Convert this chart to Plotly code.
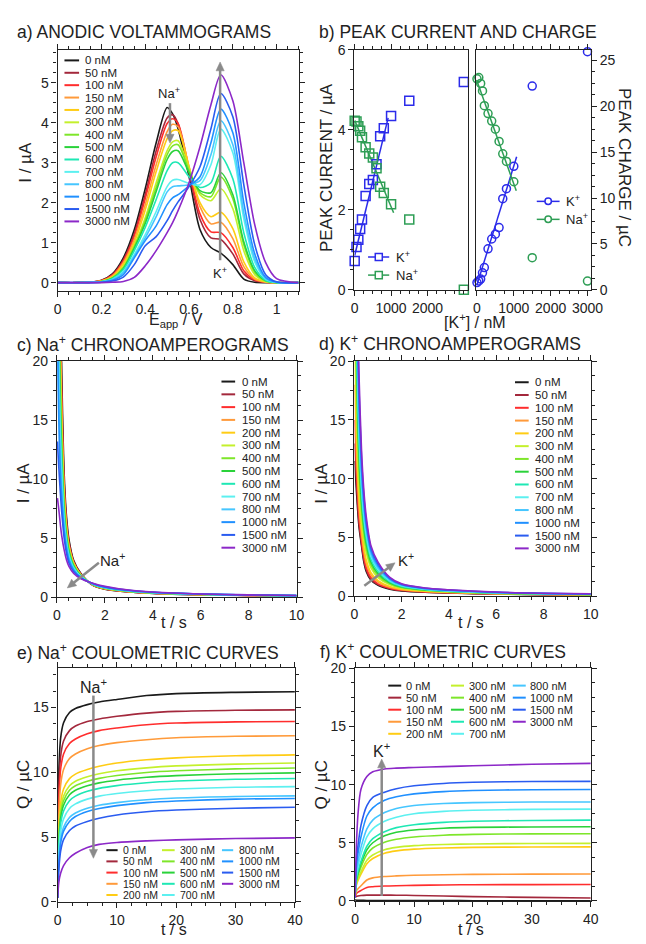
import math
import plotly.graph_objects as go

W, H = 646, 944
FONT = "Liberation Sans, Arial, Helvetica, sans-serif"
INK = "#222222"
ARROW = "#8a8a8a"

# ---------------------------------------------------------------- data
conc_labels = ["0 nM", "50 nM", "100 nM", "150 nM", "200 nM", "300 nM", "400 nM",
               "500 nM", "600 nM", "700 nM", "800 nM", "1000 nM", "1500 nM", "3000 nM"]
conc_colors = ["#1a1a1a", "#a3283c", "#ff2d2d", "#ff9a3a", "#ffcc14", "#c4f02c", "#7ee62a",
               "#2ad23a", "#1ee8b4", "#5cf0f0", "#46c6ff", "#2090ff", "#2a5cf0", "#8c28c8"]

# a) anodic voltammograms: potential (V) and current (uA)
volt_E = [0, 0.1, 0.15, 0.2, 0.25, 0.3, 0.35, 0.4, 0.45, 0.5, 0.525, 0.55,
          0.6, 0.65, 0.7, 0.745, 0.8, 0.85, 0.9, 0.95, 1.0, 1.1]
volt_I = [
    [0, 0, 0.01, 0.06, 0.22, 0.62, 1.32, 2.35, 3.5, 4.38, 4.22, 3.85, 2.65, 1.33, 0.88, 0.74, 0.45, 0.09, 0.01, 0, 0, 0],
    [0, 0, 0.01, 0.05, 0.2, 0.57, 1.22, 2.2, 3.3, 4.12, 4.2, 3.98, 2.78, 1.58, 1.12, 1.08, 0.72, 0.22, 0.05, 0.01, 0, 0],
    [0, 0, 0.01, 0.05, 0.19, 0.54, 1.16, 2.1, 3.15, 3.98, 4.1, 3.98, 2.85, 1.72, 1.27, 1.25, 0.88, 0.3, 0.07, 0.01, 0, 0],
    [0, 0, 0.01, 0.04, 0.17, 0.5, 1.08, 1.95, 2.95, 3.78, 3.96, 3.9, 2.9, 1.9, 1.47, 1.51, 1.1, 0.4, 0.09, 0.01, 0, 0],
    [0, 0, 0.01, 0.04, 0.15, 0.46, 1.0, 1.82, 2.78, 3.6, 3.8, 3.8, 2.9, 2.0, 1.65, 1.76, 1.35, 0.52, 0.12, 0.02, 0, 0],
    [0, 0, 0.01, 0.03, 0.13, 0.4, 0.92, 1.62, 2.5, 3.3, 3.52, 3.55, 2.85, 2.2, 2.05, 2.35, 1.85, 0.8, 0.2, 0.03, 0, 0],
    [0, 0, 0.01, 0.03, 0.12, 0.38, 0.9, 1.55, 2.38, 3.2, 3.42, 3.45, 2.8, 2.25, 2.15, 2.64, 2.1, 0.95, 0.26, 0.04, 0, 0],
    [0, 0, 0.01, 0.03, 0.11, 0.35, 0.86, 1.48, 2.28, 3.08, 3.28, 3.3, 2.75, 2.3, 2.25, 2.75, 2.2, 1.02, 0.3, 0.05, 0, 0],
    [0, 0, 0.01, 0.02, 0.1, 0.32, 0.8, 1.38, 2.08, 2.8, 3.0, 3.0, 2.65, 2.38, 2.5, 3.16, 2.6, 1.25, 0.38, 0.06, 0, 0],
    [0, 0, 0.01, 0.02, 0.08, 0.27, 0.7, 1.2, 1.78, 2.4, 2.56, 2.58, 2.48, 2.45, 2.95, 3.84, 3.25, 1.6, 0.52, 0.09, 0.01, 0],
    [0, 0, 0.01, 0.02, 0.07, 0.25, 0.66, 1.12, 1.65, 2.27, 2.4, 2.42, 2.45, 2.55, 3.2, 4.05, 3.45, 1.75, 0.6, 0.1, 0.01, 0],
    [0, 0, 0, 0.01, 0.06, 0.2, 0.62, 1.05, 1.42, 1.95, 2.12, 2.2, 2.42, 2.65, 3.5, 4.34, 3.75, 2.0, 0.72, 0.13, 0.01, 0],
    [0, 0, 0, 0.01, 0.04, 0.14, 0.45, 0.92, 1.15, 1.55, 1.8, 2.02, 2.4, 2.9, 3.85, 4.73, 4.15, 2.45, 0.95, 0.2, 0.02, 0],
    [0, 0, 0, 0, 0.01, 0.03, 0.13, 0.42, 0.8, 1.25, 1.5, 1.8, 2.5, 3.4, 4.45, 5.2, 4.55, 3.0, 1.45, 0.5, 0.1, 0],
]

# b) peak current (uA) and peak charge (uC) versus [K+] (nM)
peak_conc = [0, 50, 100, 150, 200, 300, 400, 500, 600, 700, 800, 1000, 1500, 3000]
peak_current_K = [0.72, 1.07, 1.25, 1.52, 1.76, 2.35, 2.65, 2.75, 3.14, 3.84, 4.04, 4.35, 4.73, 5.2]
peak_current_Na = [4.23, 4.21, 4.09, 3.98, 3.82, 3.57, 3.41, 3.31, 3.04, 2.58, 2.42, 2.14, 1.76, 0.0]
peak_charge_K = [0.79, 0.97, 1.18, 1.86, 2.43, 4.47, 5.54, 6.07, 6.79, 9.93, 11.03, 13.46, 22.21, 25.96]
peak_charge_Na = [23.0, 23.14, 22.5, 21.68, 20.07, 19.21, 18.39, 17.5, 16.17, 14.82, 14.0, 11.78, 3.5, 0.96]
# linear fits over the low-concentration range
fit_current_K_x, fit_current_K_y = [0, 920], [0.86, 4.3]
fit_current_Na_x, fit_current_Na_y = [0, 1070], [4.24, 1.93]
fit_charge_K_x, fit_charge_K_y = [0, 1077], [0.54, 14.5]
fit_charge_Na_x, fit_charge_Na_y = [0, 1067], [22.75, 10.8]

# c), d) chronoamperograms: time (s) and current (uA)
chrono_t = [0.02, 0.05, 0.1, 0.15, 0.2, 0.3, 0.4, 0.5, 0.7, 1.0, 1.5, 2, 3, 4, 6, 8, 10]
chrono_Na_I = [
    [95, 60, 38, 26, 19, 10.5, 6.8, 4.9, 3.1, 2.0, 1.0, 0.68, 0.44, 0.32, 0.2, 0.14, 0.1],
    [90, 56, 35, 24, 17.5, 9.8, 6.4, 4.7, 3.0, 1.95, 1.02, 0.7, 0.45, 0.33, 0.21, 0.15, 0.11],
    [85, 52, 32, 22.5, 16.5, 9.4, 6.2, 4.5, 2.95, 1.92, 1.03, 0.71, 0.46, 0.33, 0.21, 0.15, 0.11],
    [80, 48, 30, 21, 15.5, 9.0, 6.0, 4.4, 2.9, 1.9, 1.04, 0.72, 0.47, 0.34, 0.22, 0.15, 0.11],
    [75, 45, 28, 20, 14.8, 8.6, 5.8, 4.3, 2.85, 1.88, 1.05, 0.73, 0.48, 0.35, 0.22, 0.16, 0.12],
    [65, 40, 25, 18, 13.5, 8.0, 5.5, 4.1, 2.75, 1.84, 1.06, 0.75, 0.49, 0.36, 0.23, 0.16, 0.12],
    [60, 37, 23, 16.8, 12.8, 7.7, 5.3, 4.0, 2.7, 1.82, 1.07, 0.76, 0.5, 0.36, 0.23, 0.16, 0.12],
    [55, 34, 21.5, 15.8, 12.2, 7.4, 5.15, 3.9, 2.65, 1.8, 1.08, 0.77, 0.5, 0.37, 0.24, 0.17, 0.12],
    [45, 29, 19, 14.2, 11.2, 6.9, 4.9, 3.7, 2.55, 1.76, 1.1, 0.79, 0.52, 0.38, 0.24, 0.17, 0.13],
    [38, 25, 17, 12.8, 10.3, 6.5, 4.6, 3.5, 2.45, 1.73, 1.11, 0.8, 0.53, 0.39, 0.25, 0.18, 0.13],
    [32, 22, 15, 11.6, 9.4, 6.1, 4.4, 3.35, 2.38, 1.7, 1.12, 0.82, 0.54, 0.4, 0.25, 0.18, 0.13],
    [24, 18, 13, 10.2, 8.4, 5.6, 4.1, 3.15, 2.28, 1.66, 1.14, 0.84, 0.56, 0.41, 0.26, 0.18, 0.13],
    [13.2, 12, 10.2, 8.6, 7.2, 5.0, 3.7, 2.9, 2.15, 1.62, 1.16, 0.87, 0.58, 0.42, 0.27, 0.19, 0.14],
    [8.4, 7.9, 7.0, 6.0, 5.2, 4.0, 3.15, 2.6, 2.0, 1.55, 1.18, 0.92, 0.6, 0.44, 0.27, 0.19, 0.14],
]
chrono_K_I = [
    [11.5, 10.2, 8.5, 7.0, 5.8, 4.3, 2.9, 2.1, 1.35, 0.92, 0.6, 0.45, 0.33, 0.27, 0.18, 0.13, 0.1],
    [13, 11.5, 9.2, 7.5, 6.1, 4.5, 3.1, 2.25, 1.45, 0.98, 0.64, 0.48, 0.35, 0.28, 0.19, 0.14, 0.1],
    [15, 13, 10.2, 8.2, 6.6, 4.8, 3.35, 2.45, 1.58, 1.05, 0.68, 0.5, 0.36, 0.29, 0.2, 0.14, 0.11],
    [18, 15, 11.6, 9.2, 7.4, 5.3, 3.8, 2.8, 1.8, 1.2, 0.76, 0.55, 0.4, 0.31, 0.21, 0.15, 0.11],
    [22, 17.5, 13, 10.2, 8.2, 5.8, 4.2, 3.1, 2.0, 1.32, 0.82, 0.6, 0.42, 0.33, 0.22, 0.16, 0.12],
    [28, 21, 15.5, 12, 9.5, 6.7, 4.9, 3.7, 2.4, 1.58, 0.96, 0.68, 0.47, 0.37, 0.24, 0.17, 0.13],
    [32, 24, 17.5, 13.3, 10.6, 7.4, 5.4, 4.1, 2.65, 1.75, 1.05, 0.73, 0.5, 0.39, 0.25, 0.18, 0.14],
    [36, 27, 19.5, 14.8, 11.7, 8.1, 5.9, 4.5, 2.9, 1.92, 1.13, 0.78, 0.53, 0.41, 0.26, 0.19, 0.14],
    [40, 30, 21.5, 16.2, 12.8, 8.8, 6.4, 4.9, 3.15, 2.1, 1.22, 0.83, 0.56, 0.43, 0.28, 0.2, 0.15],
    [44, 33, 23.5, 17.6, 13.9, 9.5, 6.9, 5.3, 3.4, 2.26, 1.3, 0.88, 0.59, 0.45, 0.29, 0.21, 0.16],
    [47, 35, 25, 18.8, 14.8, 10.1, 7.3, 5.6, 3.6, 2.4, 1.37, 0.92, 0.61, 0.47, 0.3, 0.22, 0.16],
    [51, 38, 27, 20.3, 16.0, 10.9, 7.9, 6.0, 3.85, 2.58, 1.46, 0.97, 0.64, 0.5, 0.32, 0.23, 0.17],
    [56, 42, 28.5, 21.7, 17.3, 11.8, 8.5, 6.4, 4.1, 2.75, 1.54, 1.01, 0.67, 0.52, 0.33, 0.24, 0.18],
    [60, 45, 30, 23, 18.5, 12.5, 9.0, 6.8, 4.3, 2.9, 1.6, 1.05, 0.7, 0.55, 0.35, 0.25, 0.2],
]

# e), f) coulometric curves: time (s) and charge (uC)
coul_t = [0, 0.2, 0.5, 1, 2, 3, 5, 7, 10, 15, 20, 30, 40]
coul_Na_Q = [
    [0.3, 10.0, 12.6, 13.8, 14.6, 14.9, 15.2, 15.4, 15.6, 15.9, 16.05, 16.15, 16.2],
    [0.3, 8.6, 11.2, 12.4, 13.2, 13.55, 13.9, 14.1, 14.3, 14.55, 14.68, 14.77, 14.8],
    [0.3, 7.6, 10.2, 11.4, 12.2, 12.55, 12.95, 13.2, 13.4, 13.65, 13.78, 13.87, 13.9],
    [0.3, 6.6, 9.0, 10.2, 11.05, 11.4, 11.8, 12.05, 12.27, 12.5, 12.65, 12.76, 12.8],
    [0.3, 5.4, 7.6, 8.7, 9.5, 9.85, 10.2, 10.45, 10.7, 10.95, 11.1, 11.26, 11.33],
    [0.3, 5.0, 7.1, 8.15, 8.95, 9.3, 9.65, 9.88, 10.1, 10.33, 10.48, 10.62, 10.7],
    [0.3, 4.7, 6.75, 7.8, 8.6, 8.95, 9.3, 9.52, 9.74, 9.97, 10.1, 10.25, 10.32],
    [0.3, 4.4, 6.4, 7.45, 8.25, 8.6, 8.95, 9.17, 9.38, 9.6, 9.73, 9.87, 9.94],
    [0.3, 4.0, 6.0, 7.0, 7.8, 8.15, 8.52, 8.75, 8.96, 9.18, 9.31, 9.45, 9.51],
    [0.3, 3.6, 5.4, 6.4, 7.2, 7.55, 7.92, 8.15, 8.35, 8.57, 8.7, 8.83, 8.88],
    [0.3, 3.2, 4.8, 5.75, 6.5, 6.85, 7.22, 7.45, 7.65, 7.87, 8.0, 8.12, 8.17],
    [0.3, 2.9, 4.5, 5.45, 6.2, 6.58, 6.97, 7.2, 7.42, 7.65, 7.78, 7.92, 7.97],
    [0.3, 2.5, 3.9, 4.8, 5.5, 5.85, 6.2, 6.45, 6.7, 6.95, 7.08, 7.22, 7.29],
    [0.3, 1.5, 2.2, 2.8, 3.4, 3.75, 4.2, 4.43, 4.58, 4.7, 4.78, 4.88, 4.93],
]
coul_K_Q = [
    [0.1, 0.06, 0.05, 0.05, 0.04, 0.04, 0.04, 0.03, 0.03, 0.03, 0.02, 0.02, 0.02],
    [0.3, 0.38, 0.43, 0.47, 0.5, 0.5, 0.5, 0.49, 0.47, 0.42, 0.37, 0.3, 0.25],
    [0.3, 0.6, 0.75, 0.9, 1.15, 1.22, 1.28, 1.31, 1.34, 1.37, 1.39, 1.4, 1.41],
    [0.3, 0.85, 1.05, 1.3, 1.8, 1.98, 2.1, 2.15, 2.2, 2.25, 2.28, 2.3, 2.31],
    [0.3, 1.3, 1.75, 2.3, 3.2, 3.65, 4.1, 4.3, 4.45, 4.55, 4.6, 4.64, 4.65],
    [0.3, 1.4, 1.9, 2.5, 3.5, 3.95, 4.4, 4.6, 4.75, 4.85, 4.9, 4.94, 4.95],
    [0.3, 1.6, 2.2, 2.9, 4.0, 4.55, 5.05, 5.3, 5.5, 5.65, 5.72, 5.76, 5.77],
    [0.3, 1.75, 2.4, 3.2, 4.4, 5.0, 5.6, 5.9, 6.1, 6.25, 6.32, 6.36, 6.38],
    [0.3, 1.85, 2.55, 3.4, 4.7, 5.35, 5.95, 6.3, 6.55, 6.75, 6.85, 6.92, 6.95],
    [0.3, 2.1, 2.95, 4.0, 5.5, 6.2, 6.85, 7.2, 7.5, 7.7, 7.8, 7.87, 7.89],
    [0.3, 2.4, 3.4, 4.6, 6.2, 6.95, 7.6, 7.95, 8.2, 8.38, 8.45, 8.5, 8.5],
    [0.3, 2.9, 4.1, 5.5, 7.3, 8.0, 8.65, 8.95, 9.2, 9.4, 9.5, 9.56, 9.58],
    [0.3, 3.3, 4.8, 6.5, 8.2, 8.9, 9.35, 9.65, 9.9, 10.1, 10.2, 10.27, 10.28],
    [0.3, 4.5, 7.5, 9.6, 10.7, 11.1, 11.35, 11.42, 11.47, 11.55, 11.62, 11.75, 11.83],
]

K_COLOR = "#2b2bea"
NA_COLOR = "#2e9e55"

# ---------------------------------------------------------------- panel frames (pixels) and ranges
PANELS = {
    "a": dict(px=(55, 302), py=(287.5, 42.7), xr=(0, 1.1), yr=(-0.2, 5.82)),
    "bl": dict(px=(359.3, 475.7), py=(286.7, 42.7), xr=(-8, 3112), yr=(0, 6)),
    "br": dict(px=(484, 601.7), py=(286.7, 42.7), xr=(-26, 3090), yr=(0, 26.14)),
    "c": dict(px=(54.3, 300), py=(599.3, 359.3), xr=(0, 10), yr=(0, 20)),
    "d": dict(px=(359.3, 601.7), py=(598.3, 359.3), xr=(0, 10), yr=(0, 20)),
    "e": dict(px=(55, 298.3), py=(909.3, 671.7), xr=(0, 40), yr=(0, 18)),
    "f": dict(px=(360, 601.7), py=(908.3, 671.7), xr=(0, 40), yr=(0, 20)),
}


def px(x):
    return x / W


def py(y):
    return 1 - y / H


def to_pixels(panel, x, y):
    p = PANELS[panel]
    (x0, x1), (y0, y1) = p["px"], p["py"]
    (a0, a1), (b0, b1) = p["xr"], p["yr"]
    return x0 + (x - a0) / (a1 - a0) * (x1 - x0), y0 + (y - b0) / (b1 - b0) * (y1 - y0)


def axis(panel, dtick, minor, anchor, **kw):
    p = PANELS[panel]
    d = dict(domain=[px(p["px"][0]), px(p["px"][1])], range=list(p["xr"]),
             tickmode="linear", tick0=0, dtick=dtick, anchor=anchor,
             showline=True, linecolor=INK, linewidth=1.3, mirror="ticks",
             ticks="outside", ticklen=5, tickwidth=1.2, tickcolor=INK,
             minor=dict(tick0=0, dtick=minor, ticks="outside", ticklen=3, tickwidth=1, tickcolor=INK),
             showgrid=False, zeroline=False, fixedrange=True,
             tickfont=dict(family=FONT, size=14, color=INK))
    d.update(kw)
    return d


def yaxis(panel, dtick, minor, anchor, **kw):
    p = PANELS[panel]
    d = axis(panel, dtick, minor, anchor, **kw)
    d["domain"] = [py(p["py"][0]), py(p["py"][1])]
    d["range"] = list(p["yr"])
    return d


fig = go.Figure()


def curves(xs, ys_list, xa, ya, width=1.6):
    for ys, col in zip(ys_list, conc_colors):
        fig.add_trace(go.Scatter(x=xs, y=ys, mode="lines", xaxis=xa, yaxis=ya,
                                 line=dict(color=col, width=width, shape="spline", smoothing=0.8),
                                 hoverinfo="skip", showlegend=False))


curves(volt_E, volt_I, "x", "y")
curves(chrono_t, chrono_Na_I, "x4", "y4")
curves(chrono_t, chrono_K_I, "x5", "y5")
curves(coul_t, coul_Na_Q, "x6", "y6")
curves(coul_t, coul_K_Q, "x7", "y7")

# b) fits and markers
for fx, fy, col, xa, ya in [(fit_current_K_x, fit_current_K_y, K_COLOR, "x2", "y2"),
                            (fit_current_Na_x, fit_current_Na_y, NA_COLOR, "x2", "y2"),
                            (fit_charge_K_x, fit_charge_K_y, K_COLOR, "x3", "y3"),
                            (fit_charge_Na_x, fit_charge_Na_y, NA_COLOR, "x3", "y3")]:
    fig.add_trace(go.Scatter(x=fx, y=fy, mode="lines", xaxis=xa, yaxis=ya,
                             line=dict(color=col, width=1.5), hoverinfo="skip", showlegend=False))

for ys, col, sym, size, xa, ya in [(peak_current_K, K_COLOR, "square-open", 9, "x2", "y2"),
                                   (peak_current_Na, NA_COLOR, "square-open", 9, "x2", "y2"),
                                   (peak_charge_K, K_COLOR, "circle-open", 8, "x3", "y3"),
                                   (peak_charge_Na, NA_COLOR, "circle-open", 8, "x3", "y3")]:
    fig.add_trace(go.Scatter(x=peak_conc, y=ys, mode="markers", xaxis=xa, yaxis=ya, cliponaxis=False,
                             marker=dict(symbol=sym, size=size, color=col, line=dict(width=1.5, color=col)),
                             hoverinfo="skip", showlegend=False))

# ---------------------------------------------------------------- axes
fig.update_layout(
    width=W, height=H, margin=dict(l=0, r=0, t=0, b=0), autosize=False,
    paper_bgcolor="white", plot_bgcolor="white", showlegend=False,
    font=dict(family=FONT, color=INK),
    xaxis=axis("a", 0.2, 0.05, "y"),
    yaxis=yaxis("a", 1, 0.25, "x"),
    xaxis2=axis("bl", 1000, 250, "y2", tickmode="array", tickvals=[0, 1000, 2000],
                ticktext=["0", "1000", "2000"]),
    yaxis2=yaxis("bl", 2, 0.5, "x2", mirror=True),
    xaxis3=axis("br", 1000, 250, "y3"),
    yaxis3=yaxis("br", 5, 1.25, "x3", side="right", mirror=True),
    xaxis4=axis("c", 2, 0.5, "y4"),
    yaxis4=yaxis("c", 5, 1.25, "x4"),
    xaxis5=axis("d", 2, 0.5, "y5"),
    yaxis5=yaxis("d", 5, 1.25, "x5"),
    xaxis6=axis("e", 10, 2.5, "y6"),
    yaxis6=yaxis("e", 5, 1.25, "x6"),
    xaxis7=axis("f", 10, 2.5, "y7"),
    yaxis7=yaxis("f", 5, 1.25, "x7"),
)

annotations = []
shapes = []


def text(x, y, s, size, xanchor="left", angle=0):
    annotations.append(dict(x=px(x), y=py(y), xref="paper", yref="paper", text=s, showarrow=False,
                            xanchor=xanchor, yanchor="middle", textangle=angle,
                            font=dict(family=FONT, size=size, color=INK)))


# panel titles
text(11.5, 24, "a) ANODIC VOLTAMMOGRAMS", 17.5)
text(321, 24, "b) PEAK CURRENT AND CHARGE", 17.5)
text(11.5, 342, "c) Na<sup>+</sup> CHRONOAMPEROGRAMS", 17.5)
text(321, 341, "d) K<sup>+</sup> CHRONOAMPEROGRAMS", 17.5)
text(11.5, 655.5, "e) Na<sup>+</sup> COULOMETRIC CURVES", 17.5)
text(322, 654.5, "f) K<sup>+</sup> COULOMETRIC CURVES", 17.5)

# axis titles
text(22, 157, "I / \u00b5A", 17, xanchor="center", angle=-90)
text(176, 318, "E<sub>app</sub> / V", 16, xanchor="center")
text(330, 162, "PEAK CURRENT / \u00b5A", 17, xanchor="center", angle=-90)
text(637, 162, "PEAK CHARGE / \u00b5C", 17, xanchor="center", angle=90)
text(483, 318, "[K<sup>+</sup>] / nM", 16, xanchor="center")
text(20, 483, "I / \u00b5A", 17, xanchor="center", angle=-90)
text(174, 625, "t / s", 16, xanchor="center")
text(326, 483, "I / \u00b5A", 17, xanchor="center", angle=-90)
text(479, 625, "t / s", 16, xanchor="center")
text(20, 790, "Q / \u00b5C", 17, xanchor="center", angle=-90)
text(174, 937, "t / s", 16, xanchor="center")
text(326, 790, "Q / \u00b5C", 17, xanchor="center", angle=-90)
text(479, 937, "t / s", 16, xanchor="center")


# concentration legends drawn as line samples + labels
def conc_legend(col_x0, col_x1, col_xt, y0, dy, rows, size):
    for i, (lab, colr) in enumerate(zip(conc_labels, conc_colors)):
        c, r = divmod(i, rows)
        y = y0 + r * dy
        shapes.append(dict(type="line", xref="paper", yref="paper",
                           x0=px(col_x0[c]), x1=px(col_x1[c]), y0=py(y), y1=py(y),
                           line=dict(color=colr, width=2)))
        text(col_xt[c], y, lab, size)


conc_legend([62], [77], [81], 53.3, 12.6, 14, 11.5)
conc_legend([223], [237], [241.5], 380, 13.0, 14, 11.5)
conc_legend([524], [538], [542.5], 380.7, 13.0, 14, 11.5)
conc_legend([105, 162, 223.5], [116.5, 175, 235], [120, 178.5, 238.5], 856.7, 11.4, 5, 10.5)
conc_legend([394, 458.3, 521.7], [407.3, 471.7, 535], [410.5, 474.5, 537.5], 689.3, 12.25, 5, 11)


# b) legends: line with marker
def marker_legend(x0, x1, xm, y, col, kind, lab):
    shapes.append(dict(type="line", xref="paper", yref="paper", x0=px(x0), x1=px(x1),
                       y0=py(y), y1=py(y), line=dict(color=col, width=1.5)))
    r = 3.6 if kind == "rect" else 3.3
    shapes.append(dict(type=kind, xref="paper", yref="paper", x0=px(xm - r), x1=px(xm + r),
                       y0=py(y + r), y1=py(y - r), fillcolor="white", line=dict(color=col, width=1.5)))
    text(x1 + 4.5, y, lab, 13)


marker_legend(373.3, 395, 384.3, 253.3, K_COLOR, "rect", "K<sup>+</sup>")
marker_legend(373.3, 395, 384.3, 271.7, NA_COLOR, "rect", "Na<sup>+</sup>")
marker_legend(546.3, 569.7, 558, 196.7, K_COLOR, "circle", "K<sup>+</sup>")
marker_legend(546.3, 569.7, 558, 215, NA_COLOR, "circle", "Na<sup>+</sup>")


# trend arrows: grey shaft + filled head, placed in each panel's data units
def arrow(panel, tail, head, lab, lab_at, size):
    tx, ty = to_pixels(panel, *tail)
    hx, hy = to_pixels(panel, *head)
    L, hw = 9.0, 4.2
    dx, dy = hx - tx, hy - ty
    n = math.hypot(dx, dy)
    ux, uy = dx / n, dy / n
    bx, by = hx - ux * L, hy - uy * L
    shapes.append(dict(type="line", xref="paper", yref="paper", x0=px(tx), y0=py(ty),
                       x1=px(bx + ux), y1=py(by + uy), line=dict(color=ARROW, width=2.5)))
    pts = [(hx, hy), (bx - uy * hw, by + ux * hw), (bx + uy * hw, by - ux * hw)]
    path = "M " + " L ".join(f"{px(a):.5f},{py(b):.5f}" for a, b in pts) + " Z"
    shapes.append(dict(type="path", xref="paper", yref="paper", path=path,
                       fillcolor=ARROW, line=dict(color=ARROW, width=0.5)))
    lx, ly = to_pixels(panel, *lab_at)
    text(lx, ly, lab, size, xanchor="center")


arrow("a", (0.513, 4.49), (0.513, 3.49), "Na<sup>+</sup>", (0.51, 4.74), 13)
arrow("a", (0.742, 0.56), (0.742, 5.52), "K<sup>+</sup>", (0.742, 0.25), 13)
arrow("c", (1.75, 2.92), (0.43, 0.78), "Na<sup>+</sup>", (2.32, 3.15), 15)
arrow("d", (0.42, 0.89), (1.72, 2.84), "K<sup>+</sup>", (2.18, 3.1), 15)
arrow("e", (6.03, 15.9), (6.03, 3.36), "Na<sup>+</sup>", (6.0, 16.6), 16)
arrow("f", (4.52, 0.42), (4.52, 12.2), "K<sup>+</sup>", (4.52, 13.0), 16)

fig.update_layout(annotations=annotations, shapes=shapes)

# the figure fills the page exactly: no body margin, no scrollbars
page_css = ("document.documentElement.style.margin='0';document.documentElement.style.overflow='hidden';"
            "document.body.style.margin='0';document.body.style.padding='0';document.body.style.overflow='hidden';")
fig.write_html("out.html", post_script=page_css)
